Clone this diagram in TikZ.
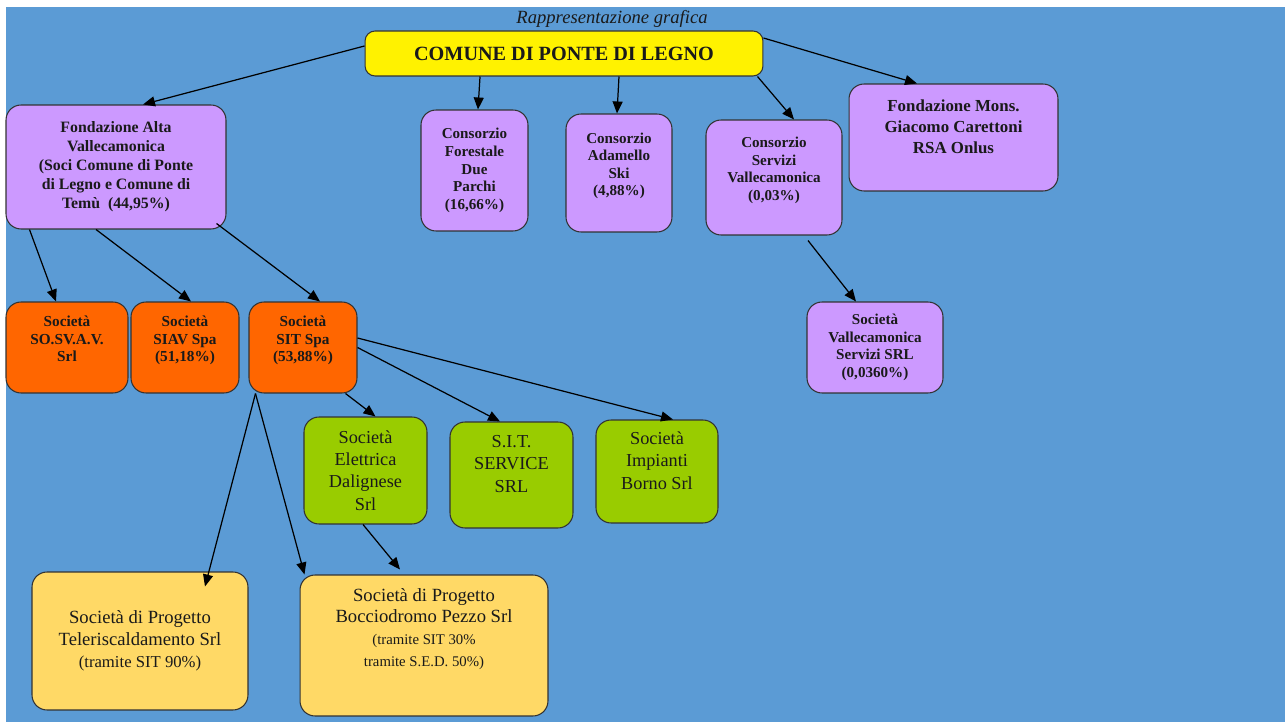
\documentclass[tikz,border=0pt]{standalone}
\usepackage{fontspec}
\setmainfont{Liberation Serif}
\usetikzlibrary{arrows.meta}
\definecolor{sfondo}{HTML}{5B9BD5}
\definecolor{lilla}{HTML}{CC99FF}
\definecolor{arancio}{HTML}{FF6600}
\definecolor{verde}{HTML}{99CC00}
\definecolor{giallino}{HTML}{FFD966}
\definecolor{bordo}{HTML}{333333}
\definecolor{testo}{HTML}{1A1A1A}
\tikzset{freccia/.style={line width=0.7pt, -{Triangle[length=2.4mm,width=2mm]}}}
\tikzset{box/.style={draw=bordo, line width=0.6pt, rounded corners=0.3cm, align=center, inner sep=2pt, text=testo}}
\tikzset{capo/.style={box, fill=yellow, rounded corners=0.2cm, font=\bfseries\fontsize{11.5}{13}\selectfont}}
\tikzset{ente/.style={box, fill=lilla, font=\bfseries\fontsize{8.6}{10}\selectfont}}
\tikzset{societa/.style={box, fill=arancio, font=\bfseries\fontsize{8.7}{10}\selectfont}}
\tikzset{controllata/.style={box, fill=verde, font=\fontsize{10.4}{12.7}\selectfont}}
\tikzset{progetto/.style={box, fill=giallino, font=\fontsize{10.6}{12.5}\selectfont}}

\begin{document}
\begin{tikzpicture}[x=0.02cm, y=-0.02cm]
\useasboundingbox (0,0) rectangle (1285,722);
\fill[white] (0,0) rectangle (1285,722);
\fill[sfondo] (6,7) rectangle (1285,722);
\node[font=\itshape\fontsize{10.6}{12}\selectfont, text=testo] (titolo) at (612,19) {Rappresentazione grafica};

% livello comune
\node[capo, minimum width=7.96cm, minimum height=0.9cm] (comune) at (564,53.5) {COMUNE DI PONTE DI LEGNO};

% enti partecipati
\node[ente, font=\bfseries\fontsize{9}{10.8}\selectfont, minimum width=4.4cm, minimum height=2.48cm] (fondalta) at (116,167)
  {Fondazione Alta\\Vallecamonica\\(Soci Comune di Ponte\\di Legno e Comune di\\Temù~ (44,95\%)};
\node[ente, minimum width=2.14cm, minimum height=2.42cm] (forestale) at (474.5,170.5) {Consorzio\\Forestale\\Due\\Parchi\\(16,66\%)};
\node[ente, minimum width=2.12cm, minimum height=2.36cm] (adamello) at (619,173) {Consorzio\\Adamello\\Ski\\(4,88\%)\\\mbox{}};
\node[ente, minimum width=2.72cm, minimum height=2.3cm] (servizi) at (774,177.5) {Consorzio\\Servizi\\Vallecamonica\\(0,03\%)\\\mbox{}};
\node[ente, font=\bfseries\fontsize{9.6}{12}\selectfont, minimum width=4.18cm, minimum height=2.14cm] (mons) at (953.5,137.5)
  {Fondazione Mons.\\Giacomo Carettoni\\RSA Onlus\\\mbox{}};

% societa
\node[societa, minimum width=2.44cm, minimum height=1.82cm] (sosvav) at (67,347.5) {Società\\SO.SV.A.V.\\Srl\\\mbox{}};
\node[societa, minimum width=2.16cm, minimum height=1.82cm] (siav) at (185,347.5) {Società\\SIAV Spa\\(51,18\%)\\\mbox{}};
\node[societa, minimum width=2.16cm, minimum height=1.82cm] (sitspa) at (303,347.5) {Società\\SIT Spa\\(53,88\%)\\\mbox{}};
\node[ente, minimum width=2.72cm, minimum height=1.82cm] (vcs) at (875,347.5) {Società\\Vallecamonica\\Servizi SRL\\(0,0360\%)};

% controllate da SIT
\node[controllata, minimum width=2.46cm, minimum height=2.14cm] (dalignese) at (365.5,470.5) {Società\\Elettrica\\Dalignese\\Srl};
\node[controllata, minimum width=2.46cm, minimum height=2.12cm] (sitservice) at (511.5,475) {S.I.T.\\SERVICE\\SRL\\\mbox{}};
\node[controllata, minimum width=2.44cm, minimum height=2.06cm] (borno) at (657,471.5) {Società\\Impianti\\Borno Srl\\\mbox{}};

% societa di progetto
\node[progetto, minimum width=4.32cm, minimum height=2.76cm] (telerisc) at (140,641)
  {Società di Progetto\\Teleriscaldamento Srl\\{\fontsize{9.5}{11}\selectfont (tramite SIT 90\%)}};
\node[progetto, minimum width=4.96cm, minimum height=2.82cm] (boccio) at (424,645.5)
  {Società di Progetto\\Bocciodromo Pezzo Srl\\{\fontsize{8.4}{10}\selectfont (tramite SIT 30\%}\\{\fontsize{8.4}{10}\selectfont tramite S.E.D. 50\%)}\\[8pt]\mbox{}};

% frecce
\draw[freccia] ([yshift=0.15cm]comune.west) -- ([xshift=0.54cm]fondalta.north);
\draw[freccia] ([xshift=-1.68cm]comune.south) -- ([xshift=0.07cm]forestale.north);
\draw[freccia] ([xshift=1.1cm]comune.south) -- ([xshift=-0.04cm]adamello.north);
\draw[freccia] ([xshift=-0.12cm]comune.south east) -- ([xshift=0.4cm]servizi.north);
\draw[freccia] ([yshift=0.31cm]comune.east) -- ([xshift=-0.73cm]mons.north);
\draw[freccia] ([xshift=0.48cm]fondalta.south west) -- ([xshift=-0.22cm]sosvav.north);
\draw[freccia] ([xshift=-0.4cm]fondalta.south) -- ([xshift=0.12cm]siav.north);
\draw[freccia] ([xshift=-0.2cm,yshift=0.12cm]fondalta.south east) -- ([xshift=0.34cm]sitspa.north);
\draw[freccia] ([xshift=-0.24cm]sitspa.south east) -- ([xshift=0.2cm]dalignese.north);
\draw[freccia] (sitspa.east) -- ([xshift=-0.23cm]sitservice.north);
\draw[freccia] ([yshift=0.19cm]sitspa.east) -- ([xshift=0.32cm]borno.north);
\draw[freccia] ([xshift=0.14cm]sitspa.south west) -- ([xshift=1.3cm,yshift=-0.3cm]telerisc.north);
\draw[freccia] ([xshift=0.14cm]sitspa.south west) -- ([xshift=0.1cm]boccio.north west);
\draw[freccia] ([xshift=-0.05cm]dalignese.south) -- ([xshift=-0.48cm,yshift=0.1cm]boccio.north);
\draw[freccia] ([xshift=0.68cm,yshift=-0.1cm]servizi.south) -- ([xshift=-0.38cm]vcs.north);
\end{tikzpicture}
\end{document}
